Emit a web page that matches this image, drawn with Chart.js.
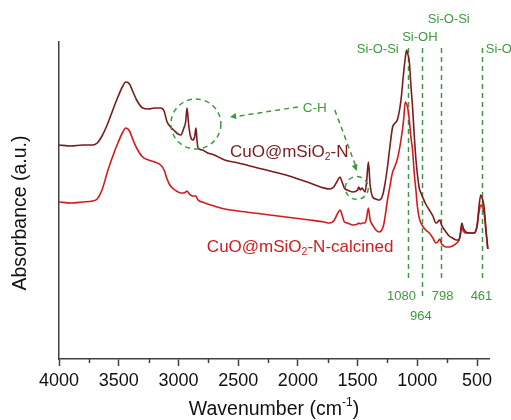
<!DOCTYPE html>
<html>
<head>
<meta charset="utf-8">
<script src="https://cdn.jsdelivr.net/npm/chart.js@4.4.0/dist/chart.umd.min.js"></script>
<style>
  html, body { margin: 0; padding: 0; background: #fff; }
  #wrap { width: 511px; height: 420px; }
</style>
</head>
<body>
<div id="wrap"><canvas id="ftir"></canvas></div>
<script>
// FTIR spectra, values (arbitrary absorbance units)
const wavenumbers = [
  4000, 3900, 3800, 3720, 3680, 3640, 3590, 3540, 3507, 3470, 3440, 3410, 3380, 3350,
  3300, 3250, 3200, 3150, 3120, 3098, 3073, 3040, 3003, 2980, 2955, 2940, 2928, 2915,
  2900, 2880, 2865, 2853, 2845, 2836, 2800, 2755, 2700, 2613, 2500, 2300, 2100, 1900,
  1780, 1736, 1700, 1670, 1647, 1630, 1611, 1586, 1540, 1500, 1491, 1478, 1463, 1438,
  1425, 1410, 1395, 1374, 1347, 1318, 1290, 1277, 1250, 1235, 1207, 1193, 1165, 1137,
  1115, 1101, 1090, 1082, 1067, 1054, 1040, 1026, 1012, 999, 984, 970, 956, 930,
  900, 870, 845, 830, 811, 800, 789, 760, 734, 706, 670, 651, 640, 628,
  615, 594, 560, 525, 500, 485, 469, 460, 441, 425, 410
];
const uncalcined = [
  2.14, 2.13, 2.14, 2.14, 2.16, 2.23, 2.36, 2.52, 2.62, 2.72, 2.77, 2.75, 2.67, 2.59,
  2.51, 2.50, 2.51, 2.51, 2.48, 2.38, 2.33, 2.29, 2.25, 2.24, 2.31, 2.37, 2.51, 2.35,
  2.23, 2.19, 2.22, 2.31, 2.19, 2.11, 2.09, 2.06, 2.04, 1.99, 1.96, 1.90, 1.84, 1.76,
  1.71, 1.70, 1.72, 1.78, 1.82, 1.77, 1.71, 1.69, 1.67, 1.69, 1.72, 1.69, 1.71, 1.67,
  1.77, 1.97, 1.74, 1.62, 1.60, 1.59, 1.64, 1.71, 1.92, 2.07, 2.32, 2.35, 2.40, 2.59,
  2.86, 3.01, 3.09, 3.06, 2.97, 2.74, 2.52, 2.24, 2.00, 1.84, 1.71, 1.66, 1.62, 1.55,
  1.49, 1.43, 1.36, 1.37, 1.39, 1.35, 1.32, 1.27, 1.23, 1.21, 1.19, 1.19, 1.25, 1.36,
  1.31, 1.27, 1.26, 1.26, 1.33, 1.51, 1.64, 1.62, 1.52, 1.29, 1.10
];
const calcined = [
  1.57, 1.56, 1.57, 1.58, 1.60, 1.69, 1.89, 2.06, 2.16, 2.26, 2.31, 2.28, 2.19, 2.11,
  2.02, 1.99, 1.97, 1.94, 1.89, 1.81, 1.74, 1.70, 1.67, 1.66, 1.66, 1.67, 1.68, 1.66,
  1.64, 1.63, 1.63, 1.63, 1.61, 1.59, 1.57, 1.55, 1.53, 1.50, 1.48, 1.45, 1.42, 1.39,
  1.37, 1.36, 1.38, 1.45, 1.49, 1.44, 1.37, 1.36, 1.34, 1.35, 1.36, 1.35, 1.36, 1.36,
  1.41, 1.51, 1.39, 1.34, 1.29, 1.27, 1.31, 1.37, 1.59, 1.69, 1.87, 1.91, 2.01, 2.19,
  2.39, 2.57, 2.55, 2.52, 2.39, 2.22, 2.09, 1.86, 1.69, 1.52, 1.41, 1.36, 1.33, 1.29,
  1.26, 1.21, 1.16, 1.17, 1.20, 1.16, 1.14, 1.12, 1.12, 1.13, 1.16, 1.19, 1.24, 1.32,
  1.28, 1.26, 1.26, 1.26, 1.33, 1.46, 1.54, 1.53, 1.46, 1.27, 1.10
];
const xTickValues = [4000, 3500, 3000, 2500, 2000, 1500, 1000, 500];
const xMinorTicks = [3750, 3250, 2750, 2250, 1750, 1250, 750];

// assigned bands (dashed green lines)
const bandPositions = [1080, 964, 798, 461];
const bandLabels = ['1080', '964', '798', '461'];
const bandNames = ['Si-O-Si', 'Si-OH', 'Si-O-Si', 'Si-O-Si'];

const darkRed = '#7a1c1e';
const red = '#d01c1f';
const green = '#3e9a3c';
const axisColor = '#404040';
const font = '"Liberation Sans", Arial, sans-serif';

// text with sub/superscript pieces
function drawRich(ctx, parts, x, y, size, color, align) {
  ctx.save();
  ctx.fillStyle = color;
  ctx.textBaseline = 'middle';
  ctx.textAlign = 'left';
  let total = 0;
  parts.forEach(p => {
    ctx.font = (p.sub || p.sup ? size * 0.62 : size) + 'px ' + font;
    p.w = ctx.measureText(p.t).width;
    total += p.w;
  });
  let cx = align === 'center' ? x - total / 2 : x;
  parts.forEach(p => {
    ctx.font = (p.sub || p.sup ? size * 0.62 : size) + 'px ' + font;
    let dy = p.sub ? size * 0.32 : (p.sup ? -size * 0.38 : 0);
    ctx.fillText(p.t, cx, y + dy);
    cx += p.w;
  });
  ctx.restore();
}

function arrowHead(ctx, x1, y1, x2, y2, len) {
  const a = Math.atan2(y2 - y1, x2 - x1);
  ctx.beginPath();
  ctx.moveTo(x2, y2);
  ctx.lineTo(x2 - len * Math.cos(a - 0.45), y2 - len * Math.sin(a - 0.45));
  ctx.lineTo(x2 - len * Math.cos(a + 0.45), y2 - len * Math.sin(a + 0.45));
  ctx.closePath();
  ctx.fill();
}

const annotations = {
  id: 'annotations',
  beforeDatasetsDraw(chart) {
    const { ctx, scales: { x, y } } = chart;
    ctx.save();
    ctx.strokeStyle = green;
    ctx.lineWidth = 1.5;
    ctx.setLineDash([5, 4]);
    bandPositions.forEach((wn, i) => {
      const px = Math.round(x.getPixelForValue(wn)) + 0.5;
      ctx.beginPath();
      ctx.moveTo(px, y.getPixelForValue(3.11));
      ctx.lineTo(px, y.getPixelForValue(i === 1 ? 0.59 : 0.77));
      ctx.stroke();
    });
    ctx.restore();
  },
  afterDraw(chart) {
    const { ctx, scales: { x, y } } = chart;
    const P = (wn, v) => [x.getPixelForValue(wn), y.getPixelForValue(v)];

    // minor ticks
    ctx.save();
    ctx.strokeStyle = axisColor;
    ctx.lineWidth = 1.5;
    xMinorTicks.forEach(wn => {
      const px = Math.round(x.getPixelForValue(wn)) + 0.5;
      ctx.beginPath();
      ctx.moveTo(px, y.bottom);
      ctx.lineTo(px, y.bottom + 4);
      ctx.stroke();
    });
    ctx.restore();

    // C-H circles and arrows
    ctx.save();
    ctx.strokeStyle = green;
    ctx.fillStyle = green;
    ctx.lineWidth = 1.5;
    ctx.setLineDash([5, 4]);
    let c1 = P(2854, 2.35), c2 = P(1507, 1.71);
    ctx.beginPath(); ctx.arc(c1[0], c1[1], 25, 0, Math.PI * 2); ctx.stroke();
    ctx.beginPath(); ctx.arc(c2[0], c2[1], 11.5, 0, Math.PI * 2); ctx.stroke();
    let a1 = P(2000, 2.52), a2 = P(2545, 2.42);
    ctx.beginPath(); ctx.moveTo(a1[0], a1[1]); ctx.lineTo(a2[0], a2[1]); ctx.stroke();
    let b1 = P(1691, 2.49), b2 = P(1507, 1.90);
    ctx.beginPath(); ctx.moveTo(b1[0], b1[1]); ctx.lineTo(b2[0], b2[1]); ctx.stroke();
    ctx.setLineDash([]);
    let a3 = P(2569, 2.42), b3 = P(1507, 1.88);
    arrowHead(ctx, a1[0], a1[1], a3[0], a3[1], 7);
    arrowHead(ctx, b1[0], b1[1], b3[0], b3[1], 7);
    ctx.restore();

    ctx.save();
    ctx.fillStyle = green;
    ctx.textBaseline = 'middle';
    ctx.textAlign = 'center';
    ctx.font = '13.5px ' + font;
    let t = P(1858, 2.51);
    ctx.fillText('C-H', t[0], t[1]);

    ctx.font = '13px ' + font;
    const namePos = [[1331, 3.10], [979, 3.22], [737, 3.40], [427, 3.10]];
    const numPos = [[1132, 0.63], [971, 0.43], [789, 0.63], [463, 0.63]];
    bandNames.forEach((name, i) => {
      let p = P(namePos[i][0], namePos[i][1]);
      ctx.textAlign = i === 3 ? 'left' : 'center';
      ctx.fillText(name, p[0], p[1]);
      let q = P(numPos[i][0], numPos[i][1]);
      ctx.textAlign = 'center';
      ctx.fillText(bandLabels[i], q[0], q[1]);
    });
    ctx.restore();

    // series labels
    let s1 = P(2569, 2.07), s2 = P(2762, 1.12);
    drawRich(ctx, [{ t: 'CuO@mSiO' }, { t: '2', sub: true }, { t: '-N' }], s1[0], s1[1], 17, darkRed, 'left');
    drawRich(ctx, [{ t: 'CuO@mSiO' }, { t: '2', sub: true }, { t: '-N-calcined' }], s2[0], s2[1], 17, red, 'left');

    // axis titles
    drawRich(ctx, [{ t: 'Wavenumber (cm' }, { t: '-1', sup: true }, { t: ')' }],
      (x.left + x.right) / 2, 410, 19.5, '#111', 'center');
    ctx.save();
    ctx.translate(21, 213);
    ctx.rotate(-Math.PI / 2);
    ctx.fillStyle = '#111';
    ctx.font = '19.5px ' + font;
    ctx.textAlign = 'center';
    ctx.textBaseline = 'middle';
    ctx.fillText('Absorbance (a.u.)', 0, 0);
    ctx.restore();
  }
};

const toPoints = vals => wavenumbers.map((wn, i) => ({ x: wn, y: vals[i] }));

new Chart(document.getElementById('ftir'), {
  type: 'line',
  data: {
    datasets: [
      {
        label: 'CuO@mSiO2-N',
        data: toPoints(uncalcined),
        borderColor: darkRed,
        borderWidth: 1.6,
        pointRadius: 0,
        cubicInterpolationMode: 'monotone'
      },
      {
        label: 'CuO@mSiO2-N-calcined',
        data: toPoints(calcined),
        borderColor: red,
        borderWidth: 1.6,
        pointRadius: 0,
        cubicInterpolationMode: 'monotone'
      }
    ]
  },
  options: {
    responsive: true,
    maintainAspectRatio: false,
    animation: false,
    layout: { padding: { top: 42, right: 22, left: 0, bottom: 0 } },
    plugins: { legend: { display: false }, tooltip: { enabled: false } },
    scales: {
      x: {
        type: 'linear',
        min: 400,
        max: 4000,
        reverse: true,
        afterBuildTicks: scale => { scale.ticks = xTickValues.map(v => ({ value: v })); },
        afterFit: scale => { scale.height = 61; },
        grid: { drawOnChartArea: false, drawTicks: true, tickLength: 7, tickColor: axisColor, tickWidth: 1.5 },
        border: { display: true, color: axisColor, width: 1.5 },
        ticks: {
          autoSkip: false,
          maxRotation: 0,
          padding: 4,
          color: '#111',
          font: { family: font, size: 18 },
          callback: v => String(v)
        }
      },
      y: {
        min: 0,
        max: 3.17,
        afterFit: scale => { scale.width = 59; },
        grid: { display: false },
        border: { display: true, color: axisColor, width: 1.5 },
        ticks: { display: false }
      }
    }
  },
  plugins: [annotations]
});
</script>
</body>
</html>
